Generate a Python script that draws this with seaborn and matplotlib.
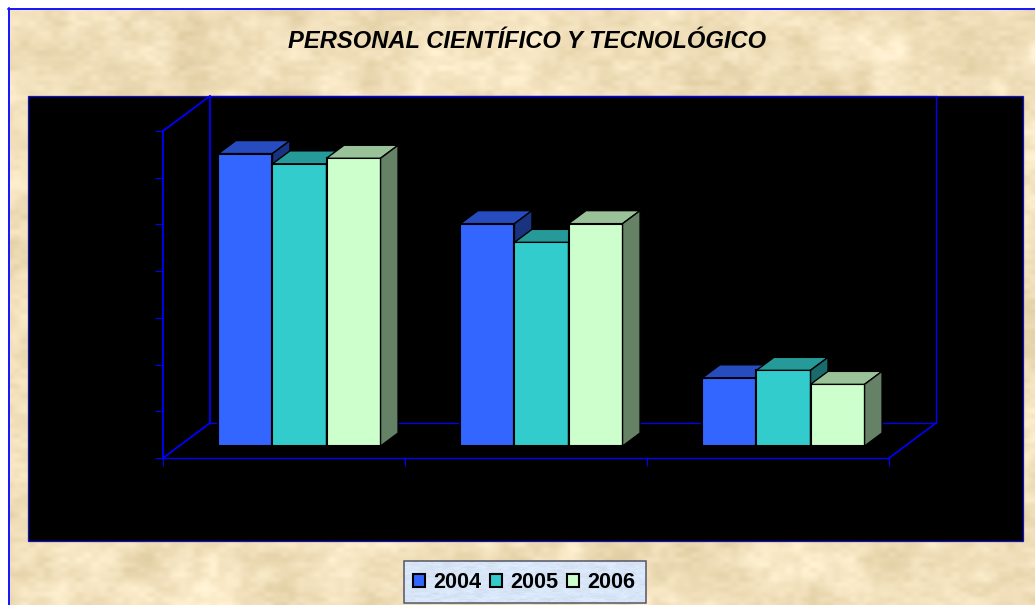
"""Personal cientifico y tecnologico: 3D-look grouped bars on a parchment background."""
import matplotlib.pyplot as plt
import numpy as np
import pandas as pd
import seaborn as sns
from matplotlib.patches import Polygon, Rectangle
from matplotlib.transforms import Affine2D

groups = ["Grupo 1", "Grupo 2", "Grupo 3"]
years = ["2004", "2005", "2006"]
values_2004 = [313, 238, 73]
values_2005 = [302, 218, 81]
values_2006 = [308, 238, 66]

front_colors = ["#3366FF", "#33CCCC", "#CCFFCC"]
top_colors = ["#264CBF", "#269999", "#99C299"]
side_colors = ["#1A3380", "#1A6B6B", "#668266"]

W, H = 1035, 605
BLUE = "#0000FF"
# wall depth and bar position inside the floor, in pixels
WALL_DX, WALL_DY = 47, 35
BAR_DX, BAR_DY = 15.5, 12
DEPTH_DX, DEPTH_DY = 17.5, 13


def value_noise(w, h, nx, ny, seed):
    # hash based noise, bilinear between grid cells
    j, i = np.meshgrid(np.arange(ny + 2), np.arange(nx + 2), indexing="ij")
    grid = np.sin(i * 12.9898 + j * 78.233 + seed) * 43758.5453
    grid = grid - np.floor(grid)
    x = np.linspace(0, nx, w)
    y = np.linspace(0, ny, h)
    x0, y0 = x.astype(int), y.astype(int)
    fx, fy = (x - x0)[None, :], (y - y0)[:, None]
    fx, fy = fx * fx * (3 - 2 * fx), fy * fy * (3 - 2 * fy)
    a = grid[np.ix_(y0, x0)]
    b = grid[np.ix_(y0, x0 + 1)]
    c = grid[np.ix_(y0 + 1, x0)]
    d = grid[np.ix_(y0 + 1, x0 + 1)]
    return (a * (1 - fx) + b * fx) * (1 - fy) + (c * (1 - fx) + d * fx) * fy


def texture(w, h, base, amp):
    n = (0.4 * value_noise(w, h, 22, 14, 0.3)
         + 0.35 * value_noise(w, h, 60, 40, 1.7)
         + 0.25 * value_noise(w, h, 130, 120, 4.1)) - 0.5
    return np.clip(np.array(base)[None, None, :] + amp * n[:, :, None] * np.array([1, 1.15, 1.5]), 0, 255) / 255


sns.set_theme(style="white")
plt.rcParams["font.family"] = ["Liberation Sans", "DejaVu Sans"]

df = pd.DataFrame({
    "grupo": groups * 3,
    "year": np.repeat(years, 3),
    "value": values_2004 + values_2005 + values_2006,
})

fig = plt.figure(figsize=(W / 100, H / 100), dpi=100, facecolor="white")

# background layer in pixel coordinates
bg = fig.add_axes([0, 0, 1, 1])
bg.set_xlim(0, W)
bg.set_ylim(H, 0)
bg.axis("off")
bg.imshow(texture(W - 8, H - 8, (241, 224, 187), 42), extent=(8, W, H, 8), aspect="auto", zorder=0)
bg.plot([8, W], [8.5, 8.5], color="#1414FF", lw=1.4, zorder=5)
bg.plot([8.5, 8.5], [8, H], color="#1414FF", lw=1.4, zorder=5)
bg.add_patch(Rectangle((28, 96), 995, 445, fc="black", ec="#1010C8", lw=0.9, zorder=1))
bg.imshow(texture(242, 42, (216, 230, 248), 24), extent=(404, 646, 603, 561), aspect="auto", zorder=2)
bg.add_patch(Rectangle((404, 561), 242, 42, fc="none", ec="#555566", lw=1.1, zorder=3))
bg.set_xlim(0, W)
bg.set_ylim(H, 0)

# front plane of the chart
ax = fig.add_axes([163 / W, 1 - 458 / H, 726 / W, 327 / H], facecolor="none")
sns.barplot(data=df, x="grupo", y="value", hue="year", hue_order=years, palette=front_colors,
            width=0.67, gap=0, saturation=1, edgecolor="black", linewidth=1.5, ax=ax)
handles, labels = ax.get_legend_handles_labels()
ax.get_legend().remove()

ax.set_xlim(-0.5, 2.5)
ax.set_ylim(0, 350)
ax.set_xlabel("")
ax.set_ylabel("")
ax.set_xticks([-0.5, 0.5, 1.5, 2.5], [""] * 4)
ax.set_yticks(range(0, 351, 50), [""] * 8)
ax.tick_params(axis="both", which="major", left=True, bottom=True, length=5.8, width=0.8, color=BLUE)
sns.despine(ax=ax, top=True, right=True)
for side in ["left", "bottom"]:
    ax.spines[side].set_color(BLUE)
    ax.spines[side].set_linewidth(1.0)
ax.spines["left"].set_linewidth(1.3)

# walls and floor, built from the axes corners
(x0, y0), (x1, y1) = ax.transAxes.transform((0, 0)), ax.transAxes.transform((1, 1))
wall_lines = [
    ([x0, x0 + WALL_DX], [y0, y0 + WALL_DY], 1.3),
    ([x0, x0 + WALL_DX], [y1, y1 + WALL_DY], 1.3),
    ([x0 + WALL_DX, x0 + WALL_DX], [y0 + WALL_DY, y1 + WALL_DY], 1.3),
    ([x1 + WALL_DX, x1 + WALL_DX], [y0 + WALL_DY, y1 + WALL_DY], 1.0),
    ([x0 + WALL_DX, x1 + WALL_DX], [y0 + WALL_DY, y0 + WALL_DY], 0.9),
    ([x1, x1 + WALL_DX], [y0, y0 + WALL_DY], 1.2),
    ([x0 + WALL_DX, x1 + WALL_DX], [y1 + WALL_DY, y1 + WALL_DY], 0.9),
]
for xs, ys, lw in wall_lines:
    ax.plot(xs, ys, transform=Affine2D(), color=BLUE, lw=lw, clip_on=False, zorder=1)

# bars sit inside the floor; add top and side faces, left to right
offset = Affine2D().translate(BAR_DX, BAR_DY)
bars = [(bar, i) for i, cont in enumerate(ax.containers) for bar in cont]
bars.sort(key=lambda item: item[0].get_x())
for order, (bar, color_idx) in enumerate(bars):
    left, right = bar.get_x(), bar.get_x() + bar.get_width()
    height = bar.get_height()
    (fx0, fy0) = offset.transform(ax.transData.transform((left, 0)))
    (fx1, fy1) = offset.transform(ax.transData.transform((right, height)))
    top = [(fx0, fy1), (fx1, fy1), (fx1 + DEPTH_DX, fy1 + DEPTH_DY), (fx0 + DEPTH_DX, fy1 + DEPTH_DY)]
    side = [(fx1, fy0), (fx1 + DEPTH_DX, fy0 + DEPTH_DY), (fx1 + DEPTH_DX, fy1 + DEPTH_DY), (fx1, fy1)]
    bar.set_transform(ax.transData + offset)
    bar.set_clip_on(False)
    bar.set_zorder(3 + order * 3)
    for pts, colors, z in [(top, top_colors, 1), (side, side_colors, 2)]:
        ax.add_patch(Polygon(pts, closed=True, transform=Affine2D(), fc=colors[color_idx], ec="black",
                             lw=1.0, clip_on=False, zorder=3 + order * 3 + z))

fig.text(527 / W, 1 - 41 / H, "PERSONAL CIENTÍFICO Y TECNOLÓGICO", ha="center", va="center",
         fontsize=17.1, fontweight="bold", fontstyle="italic", color="black")

fig.legend(handles, labels, loc="center", bbox_to_anchor=(524 / W, 1 - 583 / H), ncol=3, frameon=False,
           prop={"weight": "bold", "size": 15.6}, handlelength=0.55, handleheight=0.55,
           handletextpad=0.37, columnspacing=0.41, labelcolor="black")

fig.savefig("out.png", dpi=100)
